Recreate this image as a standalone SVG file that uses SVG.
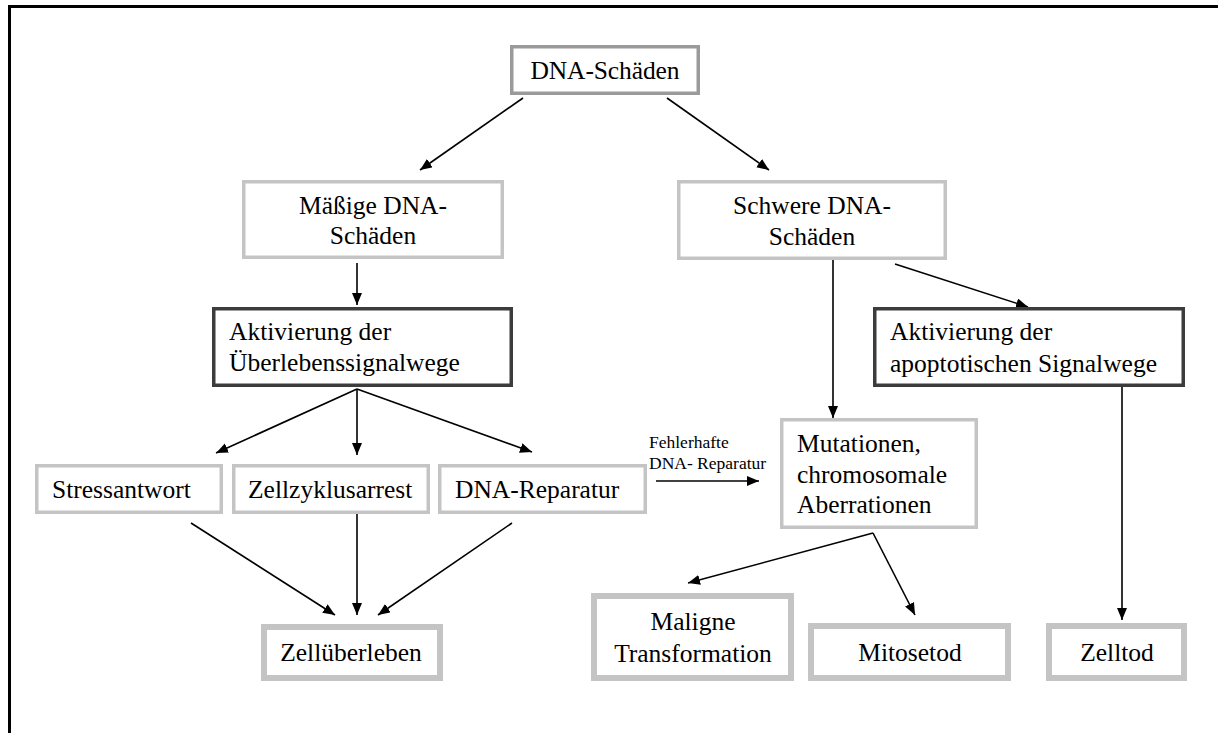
<svg xmlns="http://www.w3.org/2000/svg" width="1218" height="733" viewBox="0 0 1218 733">
<style>
text{font-family:'Liberation Serif','Times New Roman','DejaVu Serif',serif;fill:#000}
.t{font-size:25.5px}
.c{text-anchor:middle}
.lbl{font-size:17.5px}
.top{fill:#fff;stroke:#9a9a9a;stroke-width:3.5}
.lt{fill:#fff;stroke:#c4c4c4;stroke-width:3.5}
.dk{fill:#fff;stroke:#3c3c3c;stroke-width:3.5}
.thk{fill:#fff;stroke:#c4c4c4;stroke-width:6}
.ed{fill:none;stroke:#000;stroke-width:1.6;marker-end:url(#ah)}
</style>
<defs>
<marker id="ah" markerUnits="userSpaceOnUse" markerWidth="13" markerHeight="11" refX="12" refY="5" orient="auto">
<path d="M0,0 L12,5 L0,10 z" fill="#000"/>
</marker>
</defs>
<rect width="1218" height="733" fill="#fff"/>
<g id="frame" fill="none" stroke="#000" stroke-width="3">
<line x1="8" y1="6.5" x2="1218" y2="6.5"/>
<line x1="9.5" y1="5" x2="9.5" y2="733"/>
</g>
<g id="connectors">
<line class="ed" x1="523" y1="98" x2="420" y2="170"/>
<line class="ed" x1="667" y1="98" x2="769" y2="170"/>
<line class="ed" x1="357" y1="263" x2="357" y2="305"/>
<line class="ed" x1="357" y1="389" x2="216" y2="453"/>
<line class="ed" x1="357" y1="389" x2="357" y2="455"/>
<line class="ed" x1="357" y1="389" x2="532" y2="452"/>
<line class="ed" x1="191" y1="523" x2="335" y2="615"/>
<line class="ed" x1="357" y1="514" x2="357" y2="615"/>
<line class="ed" x1="512" y1="523" x2="378" y2="615"/>
<line class="ed" x1="656" y1="481" x2="759" y2="481"/>
<line class="ed" x1="833" y1="258" x2="833" y2="418"/>
<line class="ed" x1="895" y1="264" x2="1028" y2="307"/>
<line class="ed" x1="1122" y1="387" x2="1122" y2="620"/>
<line class="ed" x1="873" y1="533" x2="688" y2="583"/>
<line class="ed" x1="873" y1="533" x2="915" y2="615"/>
<text class="lbl" x="649" y="448">Fehlerhafte</text>
<text class="lbl" x="649" y="469">DNA- Reparatur</text>
</g>
<g id="n-dna">
<rect class="top" x="511.75" y="46.75" width="186.5" height="46.5"/>
<text class="t c" x="605" y="79" textLength="149" lengthAdjust="spacing">DNA-Schäden</text>
</g>
<g id="n-maessig">
<rect class="lt" x="243.75" y="181.75" width="258.5" height="75.5"/>
<text class="t c" x="373" y="214">Mäßige DNA-</text>
<text class="t c" x="373" y="244">Schäden</text>
</g>
<g id="n-schwer">
<rect class="lt" x="678.75" y="181.75" width="266.5" height="76.5"/>
<text class="t c" x="812" y="214">Schwere DNA-</text>
<text class="t c" x="812" y="245">Schäden</text>
</g>
<g id="n-ueberleben-sig">
<rect class="dk" x="213.75" y="308.75" width="297.5" height="76.5"/>
<text class="t" x="229" y="340">Aktivierung der</text>
<text class="t" x="229" y="371">Überlebenssignalwege</text>
</g>
<g id="n-apopt-sig">
<rect class="dk" x="874.75" y="308.75" width="308.5" height="76.5"/>
<text class="t" x="890" y="340">Aktivierung der</text>
<text class="t" x="890" y="372">apoptotischen Signalwege</text>
</g>
<g id="n-stress">
<rect class="lt" x="36.75" y="465.75" width="184.5" height="46.5"/>
<text class="t" x="52" y="498">Stressantwort</text>
</g>
<g id="n-zyklus">
<rect class="lt" x="233.75" y="465.75" width="194.5" height="46.5"/>
<text class="t" x="248" y="498">Zellzyklusarrest</text>
</g>
<g id="n-reparatur">
<rect class="lt" x="439.75" y="465.75" width="205.5" height="46.5"/>
<text class="t" x="455" y="498">DNA-Reparatur</text>
</g>
<g id="n-mutationen">
<rect class="lt" x="781.75" y="419.75" width="194.5" height="107.5"/>
<text class="t" x="797" y="452">Mutationen,</text>
<text class="t" x="797" y="483">chromosomale</text>
<text class="t" x="797" y="513">Aberrationen</text>
</g>
<g id="n-zellueberleben">
<rect class="thk" x="264" y="627" width="176" height="51"/>
<text class="t c" x="351" y="661">Zellüberleben</text>
</g>
<g id="n-maligne">
<rect class="thk" x="594" y="596" width="197" height="82"/>
<text class="t c" x="693" y="630">Maligne</text>
<text class="t c" x="693" y="662">Transformation</text>
</g>
<g id="n-mitosetod">
<rect class="thk" x="811" y="626" width="197" height="52"/>
<text class="t c" x="910" y="661">Mitosetod</text>
</g>
<g id="n-zelltod">
<rect class="thk" x="1049" y="626" width="135" height="52"/>
<text class="t c" x="1117" y="661">Zelltod</text>
</g>
</svg>
